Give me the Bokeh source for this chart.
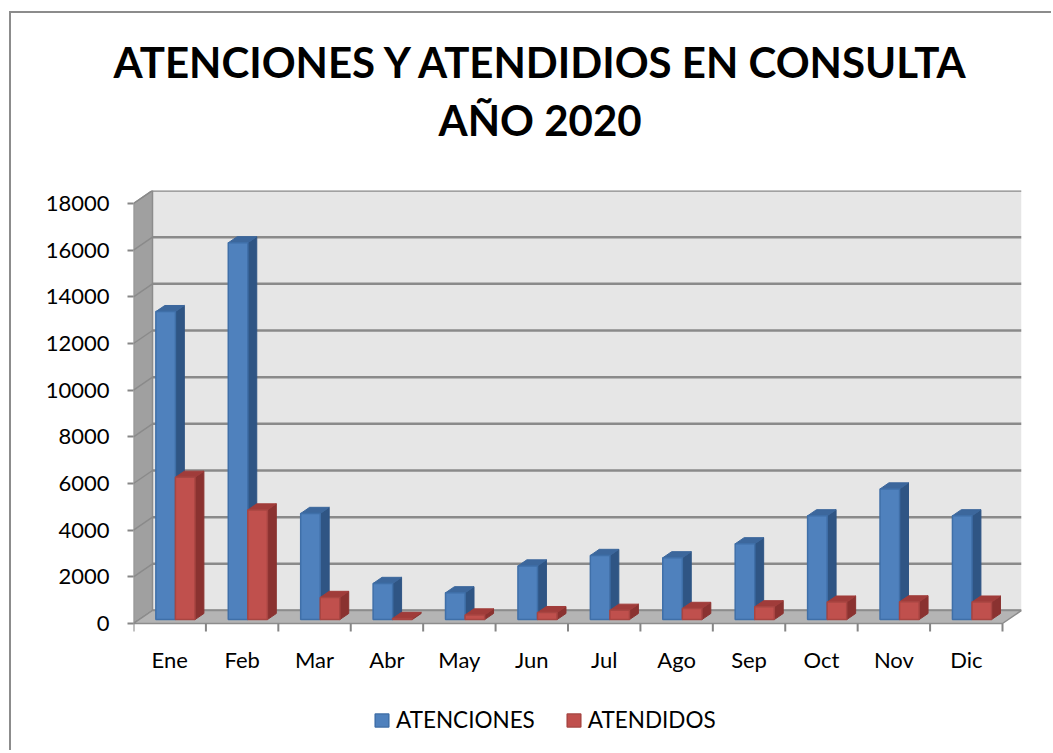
from bokeh.plotting import figure
from bokeh.models import Range1d, FixedTicker, Legend, LegendItem, Title
from bokeh.core.properties import value
from bokeh.embed import file_html
from bokeh.resources import INLINE

# ---- data ----
months = ["Ene", "Feb", "Mar", "Abr", "May", "Jun", "Jul", "Ago", "Sep", "Oct", "Nov", "Dic"]
atenciones = [13200, 16150, 4550, 1550, 1150, 2300, 2750, 2650, 3250, 4450, 5600, 4450]
atendidos = [6100, 4700, 950, 50, 200, 300, 400, 480, 550, 750, 760, 750]
y_ticks = [0, 2000, 4000, 6000, 8000, 10000, 12000, 14000, 16000, 18000]
series_names = ["ATENCIONES", "ATENDIDOS"]
title_lines = ["ATENCIONES Y ATENDIDIOS EN CONSULTA", "AÑO 2020"]

# ---- 3D look constants (data units) ----
N = len(months)
YMAX = 18000
PX_PER_UNIT = 433 / (YMAX + 557.0)
DX = 0.2624      # depth offset in categories
DY = 557.0       # depth offset in value units
F1, F2 = 0.30, 0.77   # bar front / back depth fraction
BW = 0.27        # bar width (categories)
EXT_PX = 122     # room kept under the floor for category labels and legend
YMIN = -EXT_PX / PX_PER_UNIT

FONT = "Lato"

p = figure(frame_width=888, frame_height=433 + EXT_PX,
           x_range=Range1d(0, N + DX), y_range=Range1d(YMIN, YMAX + DY),
           x_axis_location=None,
           output_backend="svg", toolbar_location=None,
           min_border_left=122, min_border_right=30,
           min_border_top=177, min_border_bottom=5)
p.styles = {"margin-left": "9px", "margin-top": "11px",
            "border-left": "2px solid #8c8c8c", "border-top": "2px solid #8c8c8c"}
p.grid.visible = False
p.outline_line_color = None
p.background_fill_color = "white"
p.border_fill_color = "white"

# walls
p.patch([DX, N + DX, N + DX, DX], [DY, DY, YMAX + DY, YMAX + DY],
        fill_color="#e6e6e6", line_color=None)
p.patch([0, 0, DX, DX], [0, YMAX, YMAX + DY, DY],
        fill_color="#a0a0a0", line_color="#8c8c8c", line_width=1.5)
# gridlines (back wall + side wall diagonals)
p.segment(x0=[DX] * len(y_ticks), y0=[t + DY for t in y_ticks],
          x1=[N + DX] * len(y_ticks), y1=[t + DY for t in y_ticks],
          line_color="#8a8a8a", line_width=2.5)
p.segment(x0=[0] * len(y_ticks), y0=y_ticks,
          x1=[DX] * len(y_ticks), y1=[t + DY for t in y_ticks],
          line_color="#8a8a8a", line_width=1.5)
# floor
p.patch([0, N, N + DX, DX], [0, 0, DY, DY],
        fill_color="#b4b4b4", line_color="#8c8c8c", line_width=1.5)

# category axis: tick marks between categories and month labels
tick_len = 8 / PX_PER_UNIT
p.segment(x0=list(range(N + 1)), y0=[0] * (N + 1),
          x1=list(range(N + 1)), y1=[-tick_len] * (N + 1),
          line_color="#868686", line_width=2)
p.text(x=[i + 0.5 for i in range(N)], y=[-36 / PX_PER_UNIT] * N, text=months,
       text_align="center", text_baseline="middle",
       text_font=value(FONT), text_font_size=value("22px"), text_color="black")

# ---- bars ----
styles = [
    dict(front="#4f81bd", side="#2f5584", top="#3c679c", line="#3f6fa8"),
    dict(front="#c0504d", side="#8a3230", top="#a03c3a", line="#a84542"),
]
front_renderers = []
ddx, ddy = (F2 - F1) * DX, (F2 - F1) * DY
b0 = F1 * DY
for s, vals in enumerate([atenciones, atendidos]):
    st = styles[s]
    lefts = [i + 0.5 + F1 * DX - BW + s * BW for i in range(N)]
    rights = [l + BW for l in lefts]
    tops = [b0 + v for v in vals]
    side_xs = [[r, r, r + ddx, r + ddx] for r in rights]
    side_ys = [[b0, t, t + ddy, b0 + ddy] for t in tops]
    top_xs = [[l, r, r + ddx, l + ddx] for l, r in zip(lefts, rights)]
    top_ys = [[t, t, t + ddy, t + ddy] for t in tops]
    p.patches(side_xs, side_ys, fill_color=st["side"], line_color=st["side"], line_width=1)
    p.patches(top_xs, top_ys, fill_color=st["top"], line_color=st["top"], line_width=1)
    r = p.quad(left=lefts, right=rights, bottom=[b0] * N, top=tops,
               fill_color=st["front"], line_color=st["line"], line_width=1.5)
    front_renderers.append(r)

# ---- value axis ----
ya = p.yaxis[0]
ya.ticker = FixedTicker(ticks=y_ticks)
ya.axis_line_color = None
ya.major_tick_out = 6
ya.major_tick_in = 0
ya.major_tick_line_color = "#868686"
ya.major_tick_line_width = 2
ya.minor_tick_line_color = None
ya.major_label_standoff = 18
ya.major_label_text_font = FONT
ya.major_label_text_font_size = "22px"
ya.major_label_text_color = "black"

# ---- title (two lines, centred on the chart) ----
t2 = Title(text=title_lines[1], align="left", offset=305, standoff=91,
           text_font=FONT, text_font_style="bold", text_font_size="42px",
           text_color="black")
t1 = Title(text=title_lines[0], align="left", offset=-20, standoff=-78,
           text_font=FONT, text_font_style="bold", text_font_size="42px",
           text_color="black")
p.add_layout(t2, "above")
p.add_layout(t1, "above")

# ---- legend (inside the frame, under the category labels) ----
legend = Legend(items=[LegendItem(label=series_names[0], renderers=[front_renderers[0]]),
                       LegendItem(label=series_names[1], renderers=[front_renderers[1]])],
                orientation="horizontal", location=(240, 12),
                glyph_width=17, glyph_height=16, label_standoff=6, spacing=30,
                padding=0, margin=0, border_line_color=None,
                background_fill_alpha=0, label_text_font=FONT,
                label_text_font_size="22.5px", label_text_color="black")
p.add_layout(legend, "center")

open("out.html", "w").write(file_html(p, INLINE))
